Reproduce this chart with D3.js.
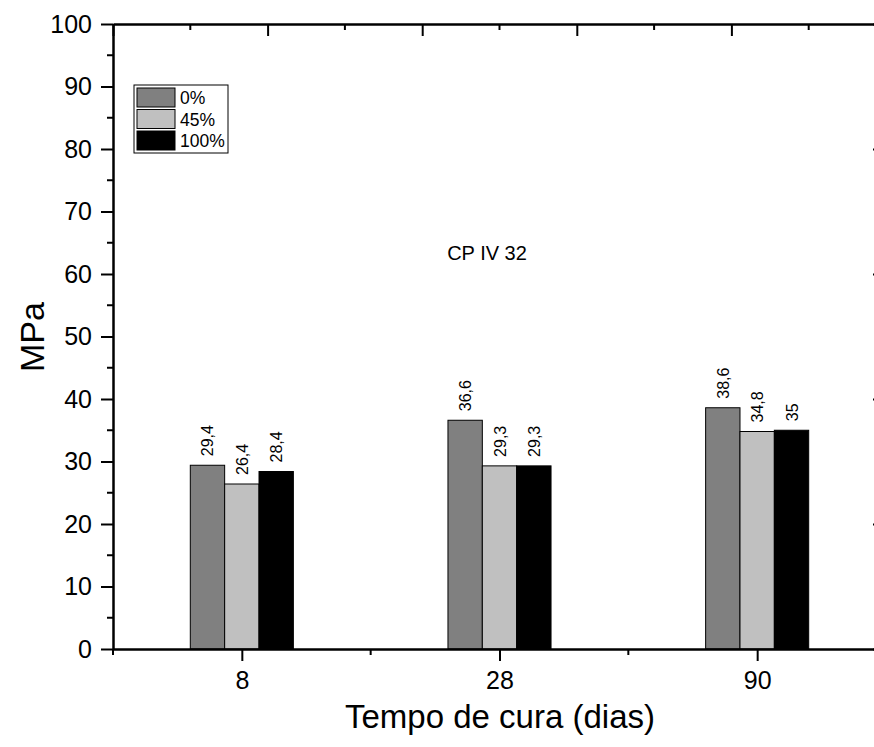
<!DOCTYPE html>
<html>
<head>
<meta charset="utf-8">
<script src="https://cdn.jsdelivr.net/npm/d3@7"></script>
<style>
  body { margin: 0; background: #fff; overflow: hidden; }
  svg { display: block; overflow: hidden; }
  text { font-family: "Liberation Sans", Arial, sans-serif; fill: #000; }
</style>
</head>
<body>
<svg id="chart" width="874" height="747"></svg>
<script>
const categories = ["8", "28", "90"];
const seriesNames = ["0%", "45%", "100%"];
const seriesColors = ["#808080", "#c0c0c0", "#000000"];
const values0 = [29.4, 36.6, 38.6];
const values45 = [26.4, 29.3, 34.8];
const values100 = [28.4, 29.3, 35];
const valueLabels0 = ["29,4", "36,6", "38,6"];
const valueLabels45 = ["26,4", "29,3", "34,8"];
const valueLabels100 = ["28,4", "29,3", "35"];
const yTicks = [0, 10, 20, 30, 40, 50, 60, 70, 80, 90, 100];

const series = [values0, values45, values100];
const seriesLabels = [valueLabels0, valueLabels45, valueLabels100];

const svg = d3.select("#chart");
const pLeft = 113, pRight = 886, pTop = 24, pBottom = 649;

const x = d3.scaleLinear().domain([-0.5, categories.length - 0.5]).range([pLeft, pRight]);
const y = d3.scaleLinear().domain([0, 100]).range([pBottom, pTop]);
const xTop = d3.scaleLinear().domain([0, 10]).range([pLeft, pRight]);

const step = x(1) - x(0);
const barW = step * 0.4 / 3;
const noLabel = () => "";

// Bars and value labels
const g = svg.append("g");
series.forEach((vals, j) => {
  g.selectAll(null).data(vals).enter().append("rect")
    .attr("x", (d, i) => x(i) + (j - 1.5) * barW)
    .attr("y", d => y(d))
    .attr("width", barW)
    .attr("height", d => y(0) - y(d))
    .attr("fill", seriesColors[j])
    .attr("stroke", "#000")
    .attr("stroke-width", 1);
  g.selectAll(null).data(vals).enter().append("text")
    .attr("transform", (d, i) => `translate(${x(i) + (j - 1) * barW + 6},${y(d) - 9}) rotate(-90)`)
    .attr("font-size", 16)
    .attr("text-anchor", "start")
    .text((d, i) => seriesLabels[j][i]);
});

// Left axis
const leftAxis = d3.axisLeft(y).tickValues(yTicks).tickSize(12).tickSizeOuter(0).tickPadding(9).tickFormat(d3.format("d"));
const la = svg.append("g").attr("transform", `translate(${pLeft},0)`).call(leftAxis);
la.selectAll("text").attr("font-size", 25);
la.append("g").selectAll("line").data(d3.range(5, 100, 10)).enter().append("line")
  .attr("x1", -6).attr("x2", 0).attr("y1", d => y(d)).attr("y2", d => y(d));

// Right axis (ticks pointing inward)
const rightAxis = d3.axisLeft(y).tickValues([0, 20, 40, 60, 80, 100]).tickSize(13).tickSizeOuter(0).tickFormat(noLabel);
svg.append("g").attr("class", "right-axis").attr("transform", `translate(${pRight},0)`).call(rightAxis);

// Bottom axis
const bottomAxis = d3.axisBottom(x).tickValues(d3.range(categories.length)).tickSize(12).tickSizeOuter(0).tickPadding(10)
  .tickFormat(i => categories[i]);
const ba = svg.append("g").attr("transform", `translate(0,${pBottom})`).call(bottomAxis);
ba.selectAll("text").attr("font-size", 25);
ba.append("g").selectAll("line").data([-0.5, 0.5, 1.5, 2.5]).enter().append("line")
  .attr("x1", d => x(d)).attr("x2", d => x(d)).attr("y1", 0).attr("y2", 6);

// Top axis (ticks pointing inward)
const topAxis = d3.axisBottom(xTop).tickValues(d3.range(0, 11, 2)).tickSize(12).tickSizeOuter(0).tickFormat(noLabel);
const ta = svg.append("g").attr("transform", `translate(0,${pTop})`).call(topAxis);
ta.append("g").selectAll("line").data(d3.range(1, 10, 2)).enter().append("line")
  .attr("x1", d => xTop(d)).attr("x2", d => xTop(d)).attr("y1", 0).attr("y2", 6);

svg.selectAll(".domain").attr("stroke", "#000").attr("stroke-width", 2.5);
svg.selectAll(".tick line").attr("stroke", "#000").attr("stroke-width", 2);
svg.selectAll("g > g > line").attr("stroke", "#000").attr("stroke-width", 2);

// Axis titles
svg.append("text").attr("x", 500).attr("y", 728)
  .attr("text-anchor", "middle").attr("font-size", 33).text("Tempo de cura (dias)");
svg.append("text").attr("transform", `translate(44,337) rotate(-90)`)
  .attr("text-anchor", "middle").attr("font-size", 34).text("MPa");

// Annotation
svg.append("text").attr("x", 487).attr("y", 260).attr("text-anchor", "middle").attr("font-size", 20).text("CP IV 32");

// Legend
const lg = svg.append("g").attr("transform", "translate(134,85)");
lg.append("rect").attr("x", 0).attr("y", 0).attr("width", 94).attr("height", 68)
  .attr("fill", "#fff").attr("stroke", "#000").attr("stroke-width", 1);
seriesNames.forEach((name, j) => {
  lg.append("rect").attr("x", 3).attr("y", 3 + j * 21.5).attr("width", 38).attr("height", 19)
    .attr("fill", seriesColors[j]).attr("stroke", "#000").attr("stroke-width", 1);
  lg.append("text").attr("x", 46).attr("y", 13 + j * 21.5).attr("dominant-baseline", "central")
    .attr("font-size", 17.5).text(name);
});
</script>
</body>
</html>
